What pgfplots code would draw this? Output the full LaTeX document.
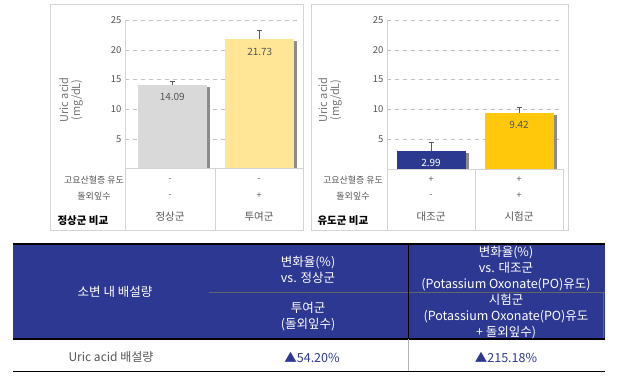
\documentclass[border=0pt]{standalone}
\usepackage{pgfplots}
\pgfplotsset{compat=1.18}
\usepackage{fontspec}
\setmainfont{Noto Sans CJK KR}
\definecolor{navy}{RGB}{45,56,146}
\definecolor{barblue}{RGB}{43,57,144}
\definecolor{baryellow}{RGB}{255,200,10}
\definecolor{lightyellow}{RGB}{254,230,150}
\definecolor{bargray}{RGB}{217,217,217}
\definecolor{txtgray}{RGB}{85,85,85}
\definecolor{framegray}{RGB}{212,212,212}
\pgfplotsset{
  panel/.style={
    ybar, scale only axis, height=149pt,
    ymin=0, ymax=25, ytick={5,10,15,20,25},
    axis x line=none, axis y line*=left,
    axis line style={draw=framegray},
    major tick length=0pt,
    ymajorgrids, grid style={dash pattern=on 4pt off 4pt, draw=black!25},
    tick label style={font=\fontsize{9.5}{10}\selectfont, text=txtgray},
    /pgf/number format/assume math mode=true,
    clip=false,
    bar width=69pt,
    nodes near coords,
    nodes near coords style={anchor=north, yshift=-5pt, font=\fontsize{10}{11}\selectfont, text=txtgray,
      /pgf/number format/fixed, /pgf/number format/precision=2, /pgf/number format/fixed zerofill},
  },
  shadow/.style={fill=black!45, draw=none, bar width=3pt, nodes near coords={}},
  eb/.style={error bars/.cd, y dir=plus, y explicit,
      error bar style={draw=black!65, line width=0.8pt},
      error mark options={rotate=90, mark size=2.5pt, draw=black!65, line width=0.8pt}},
}
\begin{document}
\begin{tikzpicture}
\path[use as bounding box] (0pt,0pt) rectangle (618pt,379pt);
% panel frames
\draw[framegray, line width=1pt] (50pt,148pt) rectangle (303pt,374pt);
\draw[framegray, line width=1pt] (311pt,148pt) rectangle (568pt,374pt);

% left panel
\begin{axis}[panel, at={(125pt,210pt)}, anchor=south west, width=175pt, xmin=-0.54, xmax=1.46]
\addplot[shadow, bar shift=36pt] coordinates {(0,13.8)};
\addplot[shadow, bar shift=36pt] coordinates {(1,21.4)};
\addplot[fill=bargray, draw=none, bar shift=0pt, eb] coordinates {(0,14.09) +- (0,0.6)};
\addplot[fill=lightyellow, draw=none, bar shift=0pt, eb] coordinates {(1,21.73) +- (0,1.45)};
\end{axis}

% right panel
\begin{axis}[panel, at={(387pt,210pt)}, anchor=south west, width=173pt, xmin=-0.5, xmax=1.466]
\addplot[shadow, bar shift=36pt] coordinates {(0,2.7)};
\addplot[shadow, bar shift=36pt] coordinates {(1,9.1)};
\addplot[fill=barblue, draw=none, bar shift=0pt, nodes near coords style={text=white}, eb] coordinates {(0,2.99) +- (0,1.55)};
\addplot[fill=baryellow, draw=none, bar shift=0pt, eb] coordinates {(1,9.42) +- (0,0.95)};
\end{axis}

% y labels
\node[rotate=90, align=center, text=black!55, font=\fontsize{11}{12}\selectfont] at (71pt,279pt) {Uric acid\\(mg/dL)};
\node[rotate=90, align=center, text=black!55, font=\fontsize{11}{12}\selectfont] at (330pt,279pt) {Uric acid\\(mg/dL)};

% condition tables
\draw[framegray, line width=0.8pt] (125pt,211pt) -- (303pt,211pt);
\draw[framegray, line width=0.8pt] (125pt,211pt) -- (125pt,148pt);
\draw[framegray, line width=0.8pt] (215pt,211pt) -- (215pt,148pt);
\draw[framegray, line width=0.8pt] (387pt,210pt) -- (563pt,210pt);
\draw[framegray, line width=0.8pt] (387pt,210pt) -- (387pt,148pt);
\draw[framegray, line width=0.8pt] (475pt,210pt) -- (475pt,148pt);
\draw[framegray, line width=0.8pt] (563pt,210pt) -- (563pt,148pt);

\begin{scope}[every node/.style={text=txtgray, font=\fontsize{9}{10}\selectfont}]
\node at (94pt,199pt) {고요산혈증 유도};
\node at (94pt,183pt) {돌외잎수};
\node at (170pt,199pt) {-}; \node at (259pt,199pt) {-};
\node at (170pt,183pt) {-}; \node at (259pt,183pt) {+};
\node at (353pt,199pt) {고요산혈증 유도};
\node at (353pt,183pt) {돌외잎수};
\node at (431pt,199pt) {+}; \node at (519pt,199pt) {+};
\node at (431pt,183pt) {-}; \node at (519pt,183pt) {+};
\end{scope}
\begin{scope}[every node/.style={text=txtgray, font=\fontsize{10.5}{12}\selectfont}]
\node at (170pt,162pt) {정상군}; \node at (259pt,162pt) {투여군};
\node at (431pt,162pt) {대조군}; \node at (519pt,162pt) {시험군};
\end{scope}
\node[anchor=west, font=\bfseries\fontsize{10.5}{11}\selectfont] at (54pt,158pt) {정상군 비교};
\node[anchor=west, font=\bfseries\fontsize{10.5}{11}\selectfont] at (314pt,158pt) {유도군 비교};

% bottom table
\fill[navy] (13pt,40pt) rectangle (605pt,135pt);
\draw[black, line width=1.2pt] (13pt,135pt) -- (605pt,135pt);
\draw[black!60, line width=0.8pt] (209pt,87pt) -- (605pt,87pt);
\draw[black!60, line width=0.8pt] (603pt,87pt) -- (603pt,40pt);
\draw[black, line width=1pt] (408pt,135pt) -- (408pt,40pt);
\draw[black, line width=1.2pt] (13pt,40pt) -- (605pt,40pt);
\draw[black!30, line width=0.8pt] (408pt,40pt) -- (408pt,7pt);
\draw[black, line width=1pt] (13pt,7pt) -- (605pt,7pt);

\begin{scope}[every node/.style={text=white, align=center, font=\fontsize{12.5}{16}\selectfont}]
\node at (115pt,87pt) {소변 내 배설량};
\node at (308pt,109.5pt) {변화율(\%)\\vs. 정상군};
\node at (506pt,110pt) {변화율(\%)\\vs. 대조군\\(Potassium Oxonate(PO)유도)};
\node at (308pt,62pt) {투여군\\(돌외잎수)};
\node at (506pt,62pt) {시험군\\(Potassium Oxonate(PO)유도\\+ 돌외잎수)};
\end{scope}
\node[text=txtgray, font=\fontsize{12}{13}\selectfont] at (111pt,22pt) {Uric acid 배설량};
\node[text=navy, font=\fontsize{12.5}{13}\selectfont] at (312pt,22pt) {▲54.20\%};
\node[text=navy, font=\fontsize{12.5}{13}\selectfont] at (506pt,22pt) {▲215.18\%};
\end{tikzpicture}
\end{document}
